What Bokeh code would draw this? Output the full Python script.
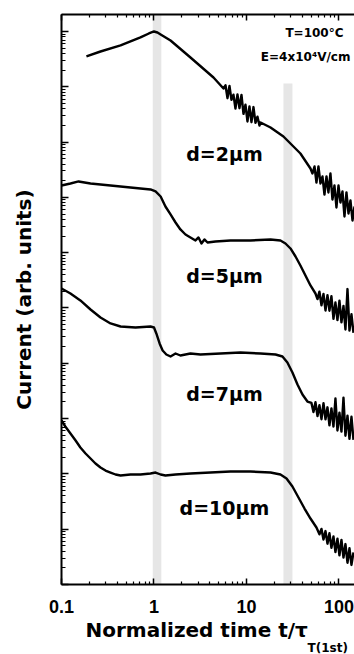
import numpy as np
from bokeh.plotting import figure
from bokeh.models import LogAxis, FixedTicker, PrintfTickFormatter, Label, Range1d, Title
from bokeh.embed import file_html
from bokeh.resources import INLINE

# ---- data (time normalised to tau_T(1st); current given as log10 of arb. units) ----
t_2um = [0.186, 0.264, 0.435, 0.714, 0.88, 1.0, 1.09, 1.18, 1.51, 2.48, 4.40, 5.64,
         5.93, 6.23, 6.55, 6.88, 7.23, 7.60, 7.99, 8.40, 8.83, 9.28, 9.75, 10.25, 10.77, 11.32, 11.90, 12.51, 13.15, 13.82,
         14.2, 18.2, 25.1, 38.3, 49.2,
         51.7, 54.4, 57.1, 60.0, 63.1, 66.3, 69.7, 73.3, 76.9, 80.9, 85.0, 89.4, 93.9, 98.8, 103.8, 109.1, 114.7, 120.5, 126.7, 133.1, 140.0, 147.2]
logI_2um = [9.548, 9.638, 9.747, 9.892, 9.964, 10.0, 9.982, 9.946, 9.837, 9.53, 9.168, 8.969,
            9.027, 8.794, 9.014, 8.763, 8.857, 8.608, 8.863, 8.613, 8.852, 8.510, 8.676, 8.373, 8.646, 8.360, 8.633, 8.347, 8.459, 8.300,
            8.354, 8.264, 8.101, 7.794, 7.523,
            7.432, 7.559, 7.269, 7.559, 7.251, 7.378, 7.052, 7.378, 7.089, 7.432, 6.962, 7.215, 6.817, 7.215, 6.908, 7.107, 6.655, 7.089, 6.709, 6.944, 6.582, 6.835]

t_5um = [0.1, 0.125, 0.153, 0.206, 0.339, 0.557, 0.917, 1.04, 1.18, 1.33, 1.51, 1.71, 1.93, 2.19, 2.48, 2.81, 3.03, 3.26, 3.51, 3.79,
         4.62, 6.71, 11.0, 18.2, 23.3, 26.4, 29.9, 33.9, 38.3, 43.4, 49.2, 55.7,
         58.6, 61.5, 64.7, 68.0, 71.5, 75.1, 78.9, 82.9, 87.2, 91.6, 96.3, 101.2, 106.4, 111.9, 117.5, 123.6, 129.9, 136.5, 143.5]
logI_5um = [7.215, 7.251, 7.288, 7.251, 7.215, 7.179, 7.143, 7.107, 7.016, 6.835, 6.691, 6.546, 6.420, 6.329, 6.275, 6.221, 6.275, 6.166, 6.239, 6.184,
            6.203, 6.221, 6.221, 6.239, 6.221, 6.166, 6.076, 5.931, 5.769, 5.588, 5.407, 5.262,
            5.161, 5.295, 5.049, 5.255, 4.955, 5.233, 4.951, 5.212, 4.803, 5.099, 4.781, 5.132, 4.741, 5.038, 4.611, 5.342, 4.590, 4.886, 4.550]

t_7um = [0.1, 0.125, 0.16, 0.206, 0.264, 0.339, 0.435, 0.631, 0.917, 1.0, 1.06, 1.15, 1.24, 1.36, 1.51, 1.71, 1.93, 2.48, 3.18,
         5.24, 8.61, 14.2, 20.6, 24.5, 27.7, 31.4, 35.6, 40.3, 45.6,
         50.4, 53.0, 55.7, 58.6, 61.5, 64.7, 68.0, 71.5, 75.1, 78.9, 82.9, 87.2, 91.6, 96.3, 101.2, 106.4, 111.9, 117.5, 123.6, 129.9, 136.5, 143.5]
logI_7um = [5.353, 5.262, 5.136, 4.973, 4.828, 4.720, 4.665, 4.647, 4.665, 4.647, 4.539, 4.358, 4.231, 4.159, 4.123, 4.177, 4.141, 4.177, 4.159,
            4.177, 4.195, 4.177, 4.159, 4.123, 4.014, 3.834, 3.617, 3.436, 3.309,
            3.282, 3.118, 3.298, 3.045, 3.242, 2.989, 3.277, 2.987, 3.204, 2.877, 3.184, 2.857, 3.363, 2.785, 3.108, 2.765, 3.378, 2.691, 3.052, 2.635, 3.033, 2.615]

t_10um = [0.1, 0.110, 0.125, 0.142, 0.16, 0.182, 0.206, 0.233, 0.264, 0.299, 0.339, 0.384, 0.435, 0.557, 0.714, 0.917, 1.04, 1.18, 1.33, 1.71,
          2.48, 4.08, 6.71, 11.0, 18.2, 23.3, 27.1, 31.4, 36.5, 42.4, 49.2, 57.1,
          61.5, 64.7, 68.0, 71.5, 75.1, 78.9, 82.9, 87.2, 91.6, 96.3, 101.2, 106.4, 111.9, 117.5, 123.6, 129.9, 136.5, 143.5]
logI_10um = [2.966, 2.857, 2.731, 2.604, 2.477, 2.369, 2.278, 2.188, 2.116, 2.061, 2.025, 1.989, 1.971, 1.989, 1.989, 2.007, 2.025, 1.989, 1.971, 1.989,
             2.007, 2.025, 2.043, 2.043, 2.025, 1.989, 1.917, 1.772, 1.573, 1.374, 1.193, 1.031,
             0.908, 1.005, 0.814, 0.966, 0.738, 0.926, 0.662, 0.868, 0.586, 0.828, 0.528, 0.807, 0.488, 0.731, 0.394, 0.655, 0.354, 0.579]

# grey transit-time bands
band_left = [0.97, 25.1]
band_right = [1.2, 31.4]
band_top_log = [10.4, 9.06]

curve_labels = ["d=2μm", "d=5μm", "d=7μm", "d=10μm"]
curve_label_t = [5.78, 5.78, 5.78, 5.78]
curve_label_log = [7.79, 5.57, 3.45, 1.39]

x_major = [0.1, 1, 10, 100]   # labelled 0.1, 1, 10, 100

# ---- figure ----
X_END = 147.2
Y_END = 10 ** 10.307
p = figure(width=354, height=654, x_axis_type="log", y_axis_type="log",
           x_range=Range1d(0.1, X_END), y_range=Range1d(1, Y_END),
           output_backend="svg", toolbar_location=None,
           min_border_left=61, min_border_right=0, min_border_top=14, min_border_bottom=70,
           background_fill_color="white", border_fill_color="white")
p.outline_line_color = None
p.grid.visible = False

xmin = [m * 10.0 ** k for k in range(-1, 3) for m in range(2, 10)]
ymaj = [10.0 ** k for k in range(0, 11)]
ymin = [m * 10.0 ** k for k in range(0, 11) for m in range(2, 10)]

TICKFONT = "Liberation Sans"
BOLDFONT = "DejaVu Sans"

def style_axis(ax, major_len, minor_len):
    ax.axis_line_width = 2
    ax.axis_line_color = "black"
    ax.major_tick_in = major_len
    ax.major_tick_out = 0
    ax.minor_tick_in = minor_len
    ax.minor_tick_out = 0
    ax.major_tick_line_width = 1.5
    ax.minor_tick_line_width = 1.2
    ax.major_tick_line_color = "black"
    ax.minor_tick_line_color = "black"

def hide_labels(ax):
    ax.major_label_text_font_size = "2px"
    ax.major_label_text_alpha = 0
    ax.major_label_standoff = 0

xa = p.xaxis[0]
xa.ticker = FixedTicker(ticks=x_major, minor_ticks=xmin)
xa.formatter = PrintfTickFormatter(format="%g")
style_axis(xa, 6, 3)
xa.major_label_text_font = TICKFONT
xa.major_label_text_font_style = "bold"
xa.major_label_text_font_size = "18px"
xa.major_label_text_color = "black"
xa.major_label_standoff = 15

ya = p.yaxis[0]
ya.ticker = FixedTicker(ticks=ymaj, minor_ticks=ymin)
style_axis(ya, 7, 4)
hide_labels(ya)
ya.axis_label = "Current (arb. units)"
ya.axis_label_text_font = BOLDFONT
ya.axis_label_text_font_style = "bold"
ya.axis_label_text_font_size = "20px"
ya.axis_label_text_color = "black"
ya.axis_label_standoff = 26

top = LogAxis(ticker=FixedTicker(ticks=x_major, minor_ticks=xmin))
style_axis(top, 6, 3)
hide_labels(top)
p.add_layout(top, "above")

# x-axis title as two titles below the axis (main text + subscript)
p.add_layout(Title(text="Normalized time t/τ", align="left", offset=24, standoff=0,
                   text_font=BOLDFONT, text_font_style="bold", text_font_size="20px",
                   text_color="black"), "below")
p.add_layout(Title(text="T(1st)", align="left", offset=246, standoff=-6,
                   text_font=BOLDFONT, text_font_style="bold", text_font_size="12px",
                   text_color="black"), "below")

# bands
p.quad(left=band_left, right=band_right, bottom=[1, 1],
       top=list(10 ** np.array(band_top_log)),
       fill_color="#e6e6e6", line_color=None)

for t, lg in [(t_2um, logI_2um), (t_5um, logI_5um), (t_7um, logI_7um), (t_10um, logI_10um)]:
    p.line(t, list(10 ** np.array(lg)), line_color="black", line_width=2.4, line_join="round")

for txt, tx, ly in zip(curve_labels, curve_label_t, curve_label_log):
    p.add_layout(Label(x=tx, y=10 ** ly, text=txt, text_align="center", text_baseline="middle",
                       text_font=BOLDFONT, text_font_style="bold", text_font_size="19px",
                       text_color="black"))

p.add_layout(Label(x=111.9, y=10 ** 9.964, text="T=100°C", text_align="right", text_baseline="middle",
                   text_font=BOLDFONT, text_font_style="bold", text_font_size="12px", text_color="black"))
p.add_layout(Label(x=133.0, y=10 ** 9.53, text="E=4x10⁴V/cm", text_align="right", text_baseline="middle",
                   text_font=BOLDFONT, text_font_style="bold", text_font_size="12px", text_color="black"))

open("out.html", "w").write(file_html(p, INLINE))
